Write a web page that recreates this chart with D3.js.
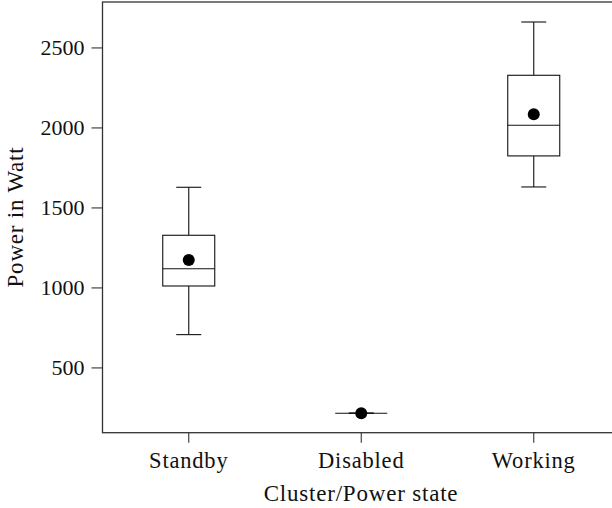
<!DOCTYPE html>
<html>
<head>
<meta charset="utf-8">
<script src="https://cdn.jsdelivr.net/npm/d3@7"></script>
<style>
  body { margin: 0; background: #fff; }
  svg text { font-family: "Liberation Serif", serif; font-size: 22px; fill: #111; }
  svg .x-axis text { font-size: 22.5px; letter-spacing: 0.8px; }
  svg .title { font-size: 23px; letter-spacing: 0.8px; }
</style>
</head>
<body>
<svg width="612" height="508"></svg>
<script>

// box plot values
var categories = ['Standby', 'Disabled', 'Working'];
var whiskerLow = [705, 214, 1628];
var q1 = [1009, 214, 1822];
var median = [1117, 214, 2014];
var q3 = [1326, 214, 2326];
var whiskerHigh = [1626, 214, 2659];
var means = [1172, 214, 2083];
var yTicks = [500, 1000, 1500, 2000, 2500];

var svg = d3.select('svg');

// note: "top" is taken by window.top, hence the plot* names
var plotLeft = 102.5, plotTop = 2, plotRight = 620, plotBottom = 432.7;

var x = d3.scaleBand()
    .domain(categories)
    .range([plotLeft, plotRight]);

var y = d3.scaleLinear()
    .domain([92, 2784])
    .range([plotBottom, plotTop]);

var boxW = 52, capW = 25;

//
// frame (the right side falls outside the picture)
//
svg.append('rect')
    .attr('x', plotLeft)
    .attr('y', plotTop)
    .attr('width', plotRight - plotLeft)
    .attr('height', plotBottom - plotTop)
    .attr('fill', 'none')
    .attr('stroke', '#333')
    .attr('stroke-width', 1.3);

var yAxis = svg.append('g')
    .attr('class', 'y-axis')
    .attr('transform', 'translate(' + plotLeft + ',0)')
    .call(d3.axisLeft(y).tickValues(yTicks).tickSize(11).tickPadding(7).tickFormat(d3.format('d')));

var xAxis = svg.append('g')
    .attr('class', 'x-axis')
    .attr('transform', 'translate(0,' + plotBottom + ')')
    .call(d3.axisBottom(x).tickSize(10).tickPadding(9));

[yAxis, xAxis].forEach(function (ax) {
  ax.select('.domain').remove();
  ax.attr('font-family', null).attr('font-size', null);
  ax.selectAll('.tick line').attr('stroke', '#333').attr('stroke-width', 1.1);
});

var data = categories.map(function (c, i) {
  return {cat: c, lo: whiskerLow[i], q1: q1[i], med: median[i], q3: q3[i], hi: whiskerHigh[i], mean: means[i]};
});

var g = svg.selectAll('.box')
    .data(data)
  .enter().append('g')
    .attr('class', 'box')
    .attr('transform', function (d) { return 'translate(' + (x(d.cat) + x.bandwidth() / 2) + ',0)'; })
    .attr('stroke', '#111')
    .attr('stroke-width', 1.1);

// whiskers
g.append('line')
    .attr('y1', function (d) { return y(d.q3); })
    .attr('y2', function (d) { return y(d.hi); });
g.append('line')
    .attr('y1', function (d) { return y(d.q1); })
    .attr('y2', function (d) { return y(d.lo); });
g.append('line')
    .attr('x1', -capW / 2).attr('x2', capW / 2)
    .attr('y1', function (d) { return y(d.hi); })
    .attr('y2', function (d) { return y(d.hi); });
g.append('line')
    .attr('x1', -capW / 2).attr('x2', capW / 2)
    .attr('y1', function (d) { return y(d.lo); })
    .attr('y2', function (d) { return y(d.lo); });

// box + median
g.append('rect')
    .attr('x', -boxW / 2)
    .attr('width', boxW)
    .attr('y', function (d) { return y(d.q3); })
    .attr('height', function (d) { return y(d.q1) - y(d.q3); })
    .attr('fill', '#fff');
g.append('line')
    .attr('x1', -boxW / 2).attr('x2', boxW / 2)
    .attr('y1', function (d) { return y(d.med); })
    .attr('y2', function (d) { return y(d.med); });

// mean
g.append('circle')
    .attr('cy', function (d) { return y(d.mean); })
    .attr('r', 6)
    .attr('fill', '#000')
    .attr('stroke', 'none');

//
// axis titles
//
svg.append('text')
    .attr('class', 'title')
    .attr('x', 361)
    .attr('y', 501)
    .attr('text-anchor', 'middle')
    .text('Cluster/Power state');

svg.append('text')
    .attr('class', 'title')
    .attr('transform', 'translate(23,217) rotate(-90)')
    .attr('text-anchor', 'middle')
    .text('Power in Watt');

</script>
</body>
</html>
